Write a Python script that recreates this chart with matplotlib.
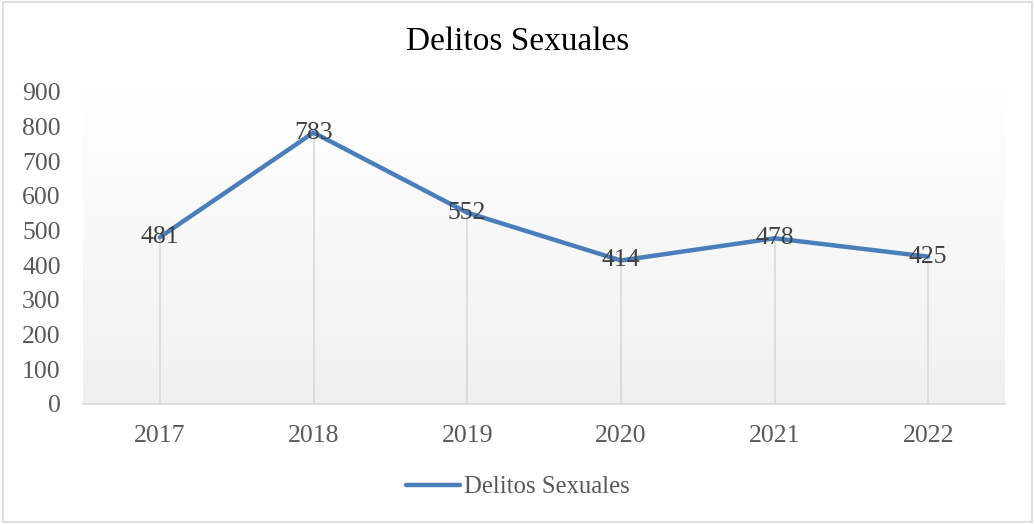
import matplotlib.pyplot as plt
import numpy as np
from matplotlib.colors import LinearSegmentedColormap
from matplotlib.patches import Rectangle

# ---------------------------------------------------------------------------
# Data
# ---------------------------------------------------------------------------

years = ["2017", "2018", "2019", "2020", "2021", "2022"]
delitos = [481, 783, 552, 414, 478, 425]
y_ticks = [0, 100, 200, 300, 400, 500, 600, 700, 800, 900]

SERIES_NAME = "Delitos Sexuales"
LINE_COLOR = "#4a7ebb"
TEXT_COLOR = "#595959"
LABEL_COLOR = "#404040"
FONT = ["Liberation Serif", "DejaVu Serif"]

plt.rcParams["font.family"] = FONT

fig = plt.figure(figsize=(10.35, 5.24), dpi=100)
ax = fig.add_axes([83 / 1035, 1 - 404 / 524, 922 / 1035, (404 - 92) / 524])

x = np.arange(len(years)) + 0.5

# plot-area gradient (white at top -> light grey at bottom)
grad = np.linspace(0.0, 1.0, 256).reshape(-1, 1)
bg_cmap = LinearSegmentedColormap.from_list("bg", ["#f0f0f0", "#ffffff"])
ax.imshow(grad, extent=[0, 6, 0, 900], aspect="auto", origin="lower",
          cmap=bg_cmap, zorder=0)

# drop lines
ax.vlines(x, 0, delitos, color="#d9d9d9", linewidth=1.2, zorder=1)

ax.plot(x, delitos, color=LINE_COLOR, linewidth=3.2, solid_capstyle="round",
        label=SERIES_NAME, zorder=3)

for xi, v in zip(x, delitos):
    ax.text(xi, v, str(v), ha="center", va="center", fontsize=18.5,
            color=LABEL_COLOR, zorder=4)

ax.set_xlim(0, 6)
ax.set_ylim(0, 900)
ax.set_yticks(y_ticks)
ax.set_yticklabels([str(t) for t in y_ticks])
ax.set_xticks(x)
ax.set_xticklabels(years)
ax.tick_params(axis="both", length=0, labelsize=18.5, colors=TEXT_COLOR)
ax.tick_params(axis="y", pad=16)
ax.tick_params(axis="x", pad=15)
for s in ["top", "right", "left"]:
    ax.spines[s].set_visible(False)
ax.spines["bottom"].set_color("#d9d9d9")
ax.spines["bottom"].set_linewidth(1.2)

fig.text(0.5, 1 - 42 / 524, "Delitos Sexuales", ha="center", va="center",
         fontsize=24, color="#000000")

fig.legend(loc="center", bbox_to_anchor=(0.5, 1 - 487 / 524), frameon=False,
           fontsize=17.8, handlelength=2.2, handletextpad=0.15, labelcolor=TEXT_COLOR)

# outer border
fig.patches.append(Rectangle((3 / 1035, 2 / 524), 1 - 6 / 1035, 1 - 4 / 524,
                             transform=fig.transFigure, fill=False,
                             edgecolor="#d9d9d9", linewidth=1.2))

fig.savefig("out.png", dpi=100)
